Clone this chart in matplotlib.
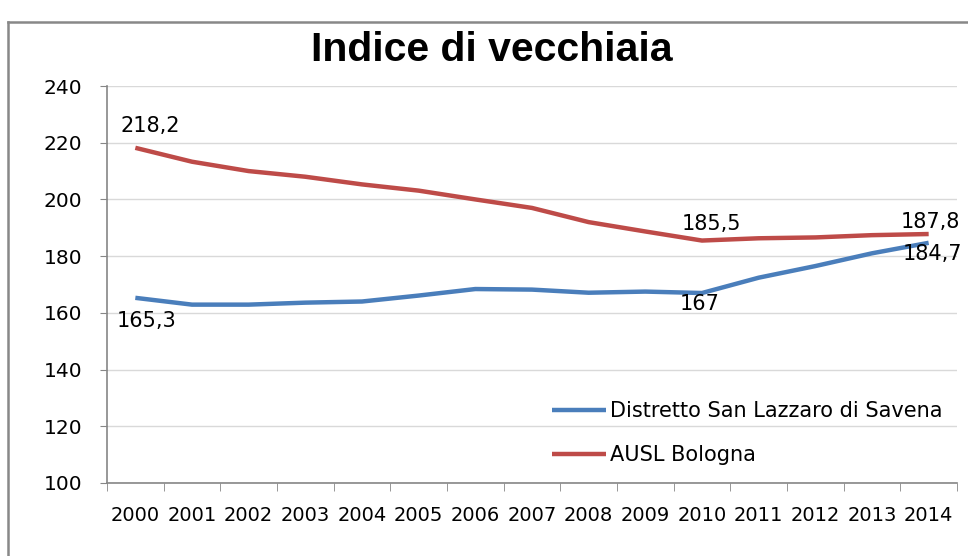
import matplotlib
matplotlib.use("Agg")
import matplotlib.pyplot as plt
from matplotlib.lines import Line2D

# Chart data
YEARS = [str(y) for y in range(2000, 2015)]
SAN_LAZZARO = [165.3, 162.9, 162.9, 163.6, 164.0, 166.1, 168.4, 168.2,
               167.1, 167.5, 167.0, 172.4, 176.5, 181.0, 184.7]
AUSL_BOLOGNA = [218.2, 213.3, 210.0, 208.0, 205.3, 203.1, 200.0, 197.0,
                192.0, 188.7, 185.5, 186.3, 186.6, 187.4, 187.8]
SERIES_NAMES = ["Distretto San Lazzaro di Savena", "AUSL Bologna"]
TITLE = "Indice di vecchiaia"
Y_TICKS = list(range(100, 241, 20))

# Data labels: (series, index, text)
LABELS = [
    ("red", 0, "218,2"), ("blue", 0, "165,3"),
    ("red", 10, "185,5"), ("blue", 10, "167"),
    ("red", 14, "187,8"), ("blue", 14, "184,7"),
]
# label offsets in points (placement only)
LABEL_OFFSETS = [(11, 16), (8, -16.5), (7, 12), (-1.5, -8), (1, 8.6), (3, -8.3)]

BLUE = "#4A7EBB"
RED = "#BE4B48"

plt.rcParams["font.family"] = ["DejaVu Sans"]

fig = plt.figure(figsize=(9.68, 5.56), dpi=100)
ax = fig.add_axes([107 / 968, 1 - 483 / 556, (957 - 107) / 968, (483 - 86) / 556])

x = list(range(len(YEARS)))
ax.plot(x, SAN_LAZZARO, color=BLUE, lw=3.2, label=SERIES_NAMES[0], solid_capstyle="butt")
ax.plot(x, AUSL_BOLOGNA, color=RED, lw=3.2, label=SERIES_NAMES[1], solid_capstyle="butt")

series = {"blue": SAN_LAZZARO, "red": AUSL_BOLOGNA}
for (s, i, txt), off in zip(LABELS, LABEL_OFFSETS):
    ax.annotate(txt, (x[i], series[s][i]), xytext=off, textcoords="offset points",
                ha="center", va="center", fontsize=15, color="black")

ax.set_xlim(-0.5, len(YEARS) - 0.5)
ax.set_ylim(100, 240)
ax.set_yticks(Y_TICKS)
ax.set_xticks(x)
ax.set_xticklabels(YEARS)
ax.set_xticks([i - 0.5 for i in range(len(YEARS) + 1)], minor=True)
ax.tick_params(axis="x", which="major", length=0, pad=16.5, labelsize=14)
ax.tick_params(axis="x", which="minor", length=6, direction="out", color="#868686")
ax.tick_params(axis="y", length=5, pad=13, labelsize=14.5, color="#868686")

ax.grid(axis="y", color="#D9D9D9", lw=1)
ax.set_axisbelow(True)
for side in ["top", "right"]:
    ax.spines[side].set_visible(False)
for side in ["left", "bottom"]:
    ax.spines[side].set_color("#868686")
    ax.spines[side].set_linewidth(1.2)

ax.legend(loc="center left", bbox_to_anchor=(533 / 968, 1 - 433 / 556),
          bbox_transform=fig.transFigure, frameon=False, fontsize=15,
          handlelength=2.6, handletextpad=0.2, labelspacing=1.15)

fig.text(492 / 968, 1 - 50 / 556, TITLE, ha="center", va="center",
         fontsize=29.5, fontweight="bold",
         family=["Liberation Sans", "DejaVu Sans"])

# outer chart frame (left and top edges visible)
fig.add_artist(Line2D([8 / 968, 8 / 968], [0, 1 - 22 / 556], color="#888888",
                      lw=1.8, transform=fig.transFigure))
fig.add_artist(Line2D([8 / 968, 1], [1 - 22 / 556, 1 - 22 / 556], color="#888888",
                      lw=1.8, transform=fig.transFigure))

fig.savefig("out.png", dpi=100, facecolor="white")
